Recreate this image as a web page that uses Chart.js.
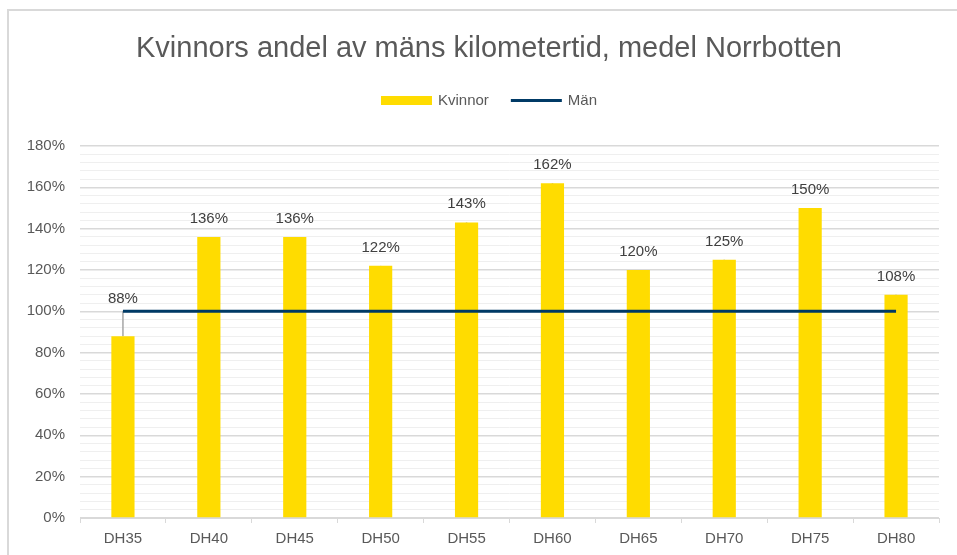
<!DOCTYPE html>
<html lang="sv">
<head>
  <meta charset="UTF-8">
  <title>Kvinnors andel av mäns kilometertid</title>
  <script src="https://cdn.jsdelivr.net/npm/chart.js"></script>
  <style>
    html, body {
      margin: 0;
      padding: 0;
      background: #ffffff;
      overflow: hidden;
    }
    .wrap {
      position: relative;
      width: 957px;
      height: 555px;
      overflow: hidden;
    }
    .frame {
      position: absolute;
      left: 7px;
      top: 9px;
      width: 1000px;
      height: 600px;
      border: 2px solid #d9d9d9;
    }
    canvas {
      position: absolute;
      left: 0;
      top: 0;
    }
  </style>
</head>
<body>

<div class="wrap">
  <div class="frame"></div>
  <canvas id="chart" width="957" height="555"></canvas>
</div>

<script>
  // data
  const kategorier = ['DH35', 'DH40', 'DH45', 'DH50', 'DH55', 'DH60', 'DH65', 'DH70', 'DH75', 'DH80'];
  const kvinnor = [88, 136, 136, 122, 143, 162, 120, 125, 150, 108];
  const man = [100, 100, 100, 100, 100, 100, 100, 100, 100, 100];
  const yMax = 180;
  const yStep = 4;       // tunna stödlinjer
  const yMajor = 20;     // etiketter + kraftigare linjer

  const FONT = '"Liberation Sans", Arial, sans-serif';
  const GUL = '#ffdc00';
  const BLA = '#003a66';

  // titel + förklaring ritas själv
  const titlePlugin = {
    id: 'titleLegend',
    afterDraw(chart) {
      const ctx = chart.ctx;
      const cx = 489;
      ctx.save();
      ctx.fillStyle = '#595959';
      ctx.font = '29px ' + FONT;
      ctx.textAlign = 'center';
      ctx.textBaseline = 'alphabetic';
      ctx.fillText('Kvinnors andel av mäns kilometertid, medel Norrbotten', cx, 57);

      ctx.font = '15px ' + FONT;
      const items = [
        { text: 'Kvinnor', type: 'box', color: GUL },
        { text: 'Män', type: 'line', color: BLA }
      ];
      const sw = 51, gap = 6, between = 22;
      let total = 0;
      items.forEach((it, i) => {
        it.w = ctx.measureText(it.text).width;
        total += sw + gap + it.w + (i ? between : 0);
      });
      let x = cx - total / 2;
      const y = 100.5;
      ctx.textAlign = 'left';
      ctx.textBaseline = 'middle';
      items.forEach((it, i) => {
        if (i) x += between;
        if (it.type === 'box') {
          ctx.fillStyle = it.color;
          ctx.fillRect(x, y - 4.5, sw, 9);
        } else {
          ctx.strokeStyle = it.color;
          ctx.lineWidth = 3;
          ctx.beginPath();
          ctx.moveTo(x, y);
          ctx.lineTo(x + sw, y);
          ctx.stroke();
        }
        x += sw + gap;
        ctx.fillStyle = '#595959';
        ctx.fillText(it.text, x, y);
        x += it.w;
      });
      ctx.restore();
    }
  };

  // hög-låg linjer mellan stapel och linje
  const highLow = {
    id: 'highLow',
    beforeDatasetsDraw(chart) {
      const ctx = chart.ctx;
      const ys = chart.scales.y;
      const meta = chart.getDatasetMeta(1);
      ctx.save();
      ctx.strokeStyle = '#a6a6a6';
      ctx.lineWidth = 1.5;
      meta.data.forEach((bar, i) => {
        ctx.beginPath();
        ctx.moveTo(bar.x, ys.getPixelForValue(kvinnor[i]));
        ctx.lineTo(bar.x, ys.getPixelForValue(man[i]));
        ctx.stroke();
      });
      ctx.restore();
    }
  };

  // dataetiketter
  const labels = {
    id: 'valueLabels',
    afterDatasetsDraw(chart) {
      const ctx = chart.ctx;
      const ys = chart.scales.y;
      const meta = chart.getDatasetMeta(1);
      ctx.save();
      ctx.fillStyle = '#404040';
      ctx.font = '15px ' + FONT;
      ctx.textAlign = 'center';
      ctx.textBaseline = 'alphabetic';
      meta.data.forEach((bar, i) => {
        let y;
        if (kvinnor[i] >= man[i]) {
          y = bar.y - 14;
        } else {
          y = ys.getPixelForValue(man[i]) - 8;
        }
        ctx.fillText(Math.round(kvinnor[i]) + '%', bar.x, y);
      });
      ctx.restore();
    }
  };

  new Chart(document.getElementById('chart'), {
    data: {
      labels: kategorier,
      datasets: [
        {
          type: 'line',
          label: 'Män',
          data: man,
          borderColor: BLA,
          borderWidth: 3,
          pointRadius: 0,
          fill: false,
          order: 0
        },
        {
          type: 'bar',
          label: 'Kvinnor',
          data: kvinnor,
          backgroundColor: GUL,
          barPercentage: 0.27,
          categoryPercentage: 1.0,
          order: 1
        }
      ]
    },
    options: {
      responsive: false,
      animation: false,
      devicePixelRatio: 1,
      layout: {
        padding: { top: 146, right: 18, left: 0, bottom: 0 }
      },
      plugins: {
        legend: { display: false },
        title: { display: false },
        tooltip: { enabled: false }
      },
      scales: {
        x: {
          offset: true,
          afterFit(s) { s.height = 37; },
          grid: {
            offset: true,
            drawOnChartArea: false,
            tickLength: 5,
            color: '#d9d9d9'
          },
          border: { color: '#d9d9d9' },
          ticks: {
            color: '#595959',
            font: { family: FONT, size: 15 },
            padding: 7
          }
        },
        y: {
          min: 0,
          max: yMax,
          afterFit(s) { s.width = 80; },
          border: { display: false },
          grid: {
            drawTicks: false,
            color: (c) => (c.tick && c.tick.value % yMajor === 0) ? '#d9d9d9' : '#efefef',
            lineWidth: (c) => (c.tick && c.tick.value % yMajor === 0) ? 1.5 : 1
          },
          ticks: {
            stepSize: yStep,
            autoSkip: false,
            padding: 15,
            color: '#595959',
            font: { family: FONT, size: 15 },
            callback: (v) => (v % yMajor === 0 ? v + '%' : '')
          }
        }
      }
    },
    plugins: [highLow, labels, titlePlugin]
  });
</script>

</body>
</html>
